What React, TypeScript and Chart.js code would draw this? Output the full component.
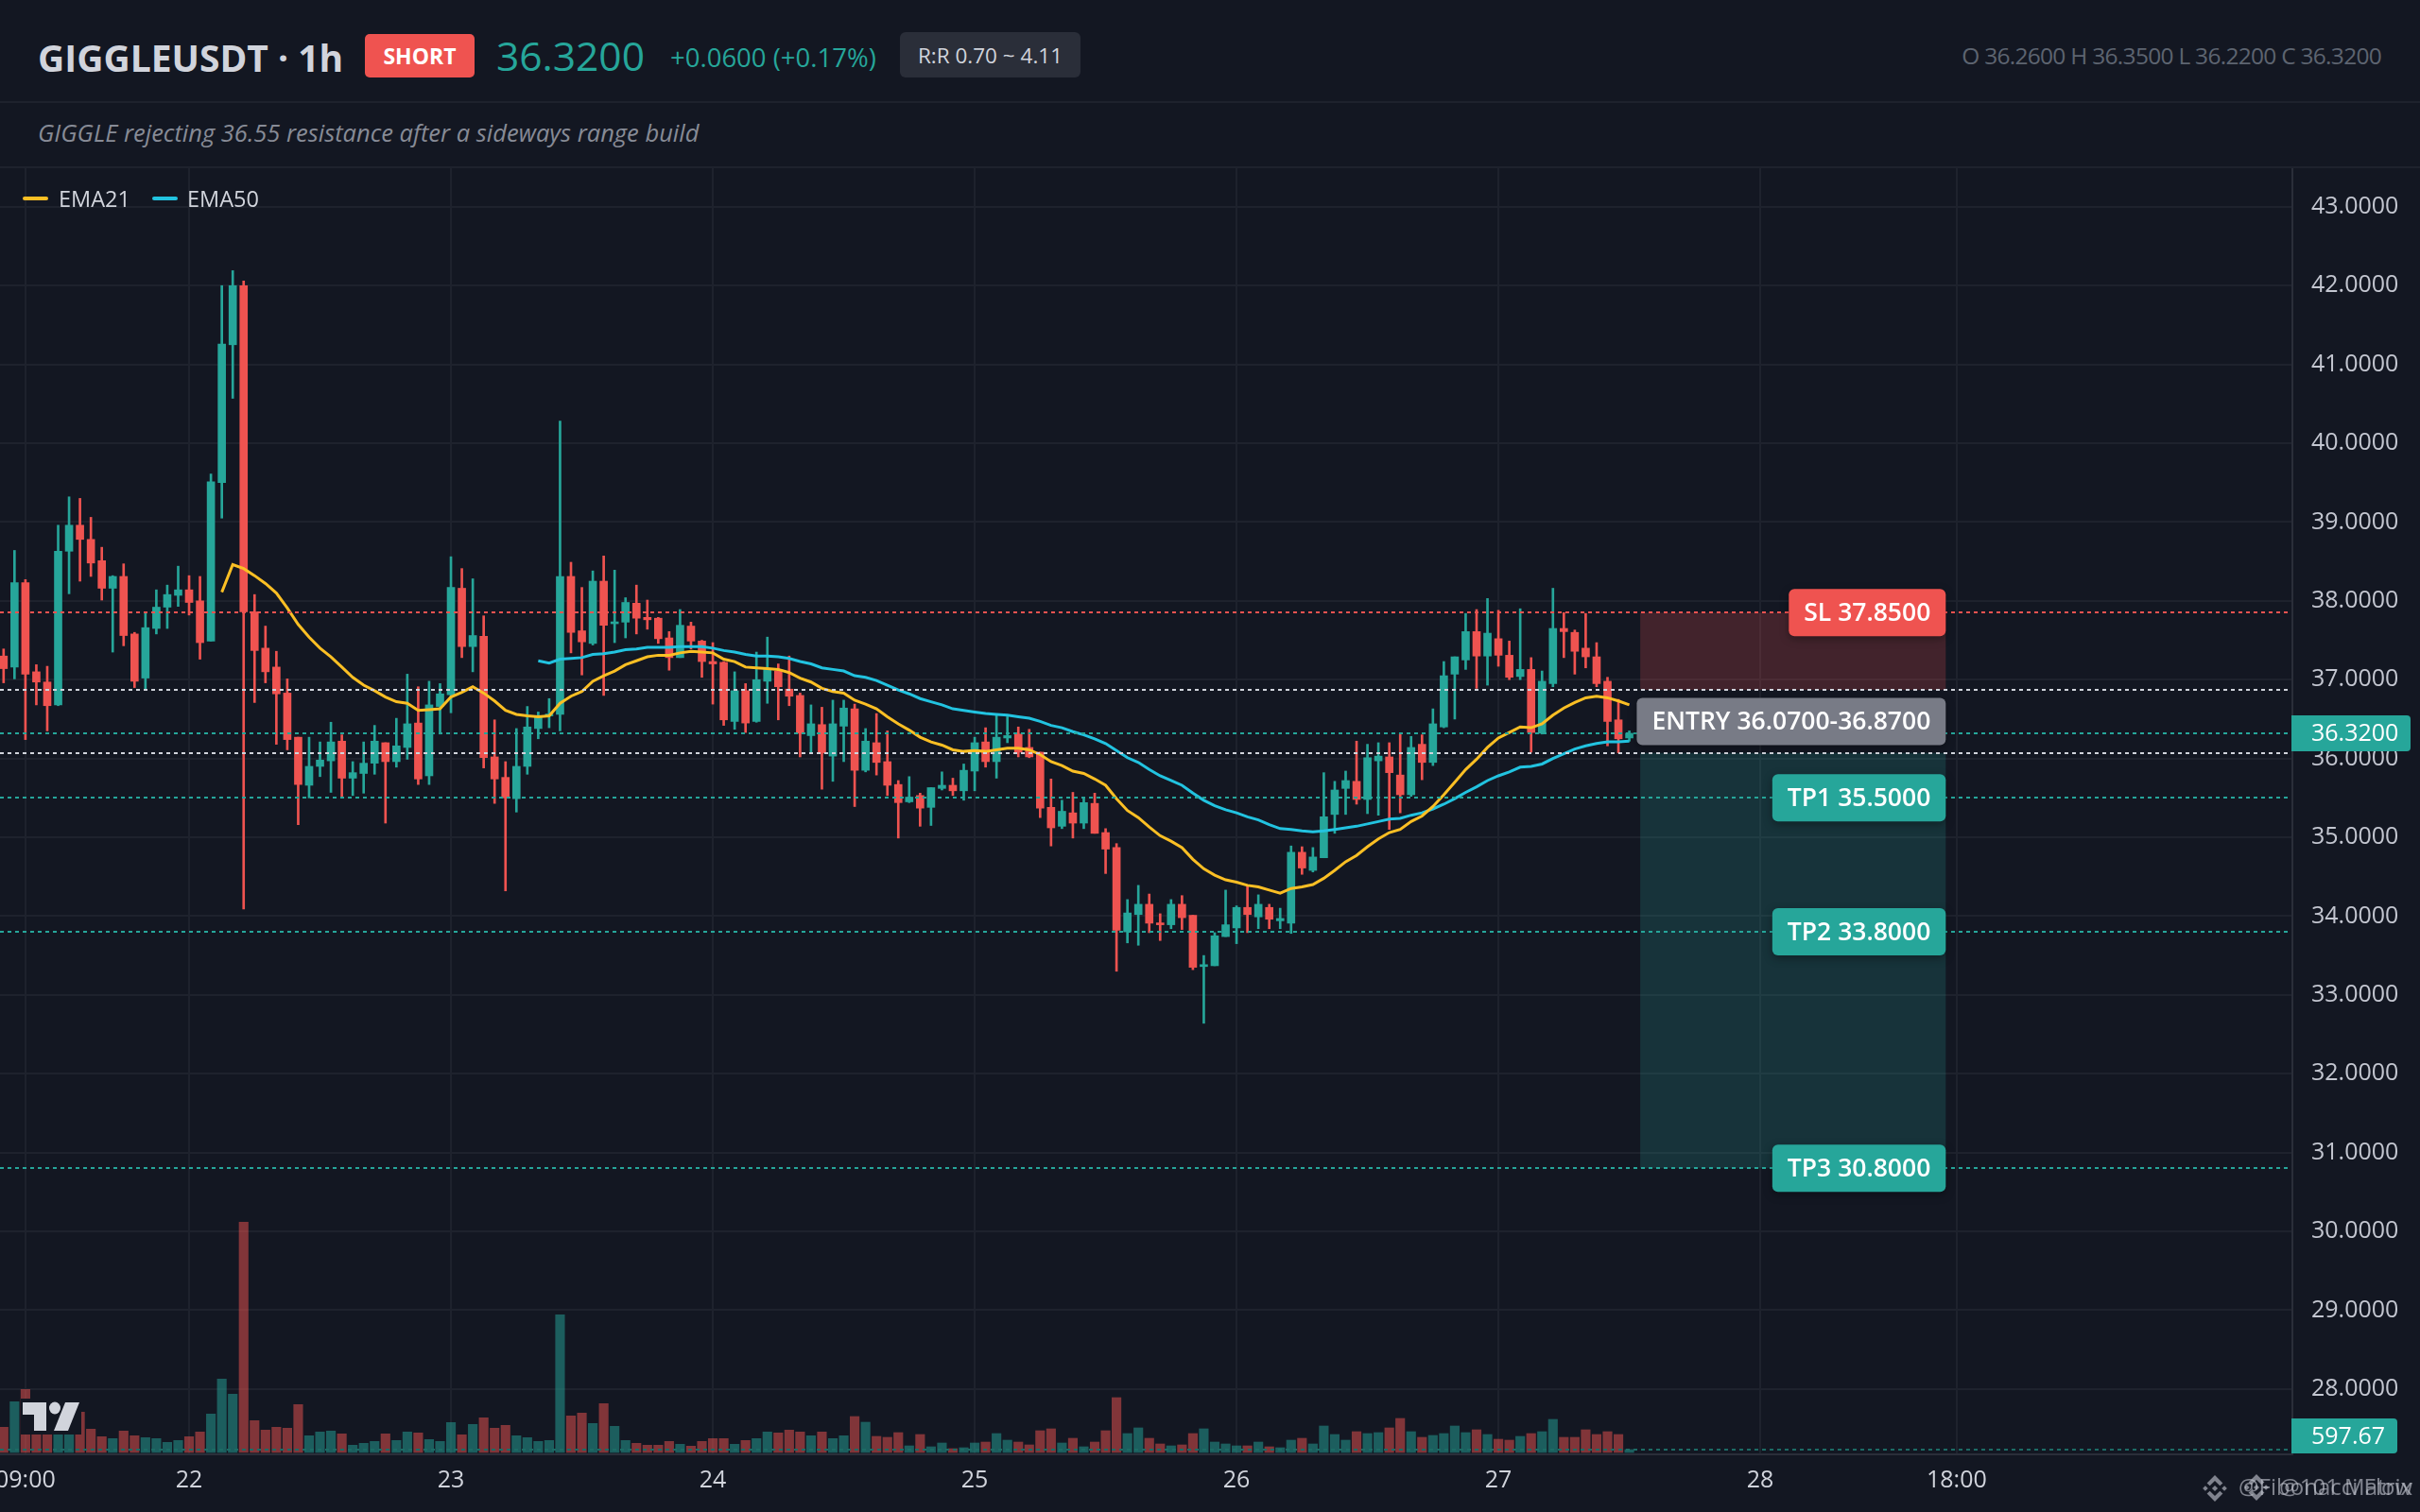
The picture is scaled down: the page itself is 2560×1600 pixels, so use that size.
import React, { useEffect, useRef } from "react";
import { Chart, registerables } from "chart.js";

Chart.register(...registerables);

const firstHour = 7; // hours after 21st 00:00 of the first candle
const opens = [37.30,37.16,38.23,37.10,36.97,36.68,38.63,38.96,38.78,38.51,38.16,38.31,37.58,37.02,37.65,37.92,38.07,38.14,38.00,37.49,39.50,41.25,42.00,37.86,37.40,37.16,36.83,36.27,35.66,35.90,35.97,36.22,35.75,35.81,35.94,36.20,35.96,36.14,36.45,35.78,36.66,36.81,38.16,37.42,37.55,36.02,35.76,35.49,35.90,36.38,36.54,36.56,38.31,37.62,37.46,38.25,37.71,37.73,37.97,37.79,37.78,37.53,37.28,37.68,37.49,37.23,37.22,36.47,36.86,36.47,36.98,37.11,36.88,36.80,36.29,36.43,36.03,36.41,36.63,35.85,36.20,35.96,35.67,35.45,35.53,35.38,35.62,35.66,35.59,35.84,36.21,35.96,36.26,36.31,36.14,36.08,35.38,35.14,35.31,35.18,35.43,35.06,34.87,33.80,34.02,34.15,33.91,33.89,34.15,34.01,33.36,33.37,33.74,33.85,34.11,33.99,34.11,33.94,33.91,34.81,34.58,34.74,35.29,35.62,35.71,35.48,35.97,36.02,35.79,35.54,36.18,35.95,36.40,37.07,37.25,37.61,37.30,37.52,37.31,37.04,37.13,36.32,36.95,37.65,37.60,37.40,37.29,36.98,36.49,36.26];
const closes = [37.14,38.23,37.07,36.97,36.67,38.63,38.96,38.78,38.48,38.16,38.31,37.56,36.98,37.66,37.92,38.08,38.14,37.98,37.47,39.51,41.26,42.00,37.86,37.37,37.10,36.82,36.24,35.67,35.90,35.98,36.21,35.75,35.82,35.94,36.22,35.96,36.16,36.44,35.74,36.68,36.82,38.17,37.42,37.56,36.01,35.74,35.50,35.90,36.40,36.54,36.55,38.31,37.60,37.48,38.25,37.69,37.73,37.98,37.78,37.76,37.52,37.28,37.69,37.49,37.23,37.20,36.49,36.86,36.45,37.00,37.13,36.91,36.79,36.32,36.44,36.07,36.44,36.64,35.85,36.22,35.95,35.66,35.44,35.51,35.37,35.63,35.66,35.59,35.85,36.20,35.96,36.27,36.29,36.08,36.02,35.37,35.12,35.33,35.18,35.44,35.05,34.85,33.82,34.04,34.15,33.91,33.89,34.15,33.98,33.35,33.37,33.75,33.89,34.11,34.02,34.15,33.96,33.97,34.81,34.61,34.75,35.26,35.60,35.72,35.48,36.01,36.03,35.82,35.54,36.14,35.95,36.44,37.05,37.29,37.61,37.30,37.59,37.31,37.03,37.13,36.33,36.98,37.65,37.61,37.36,37.29,36.95,36.47,36.25,36.32];
const highs = [37.39,38.64,38.27,37.19,37.17,38.96,39.32,39.30,39.06,38.68,38.32,38.47,37.60,37.86,38.14,38.20,38.44,38.32,38.31,39.61,42.00,42.19,42.06,38.08,37.68,37.36,37.01,36.27,36.27,36.21,36.46,36.30,35.96,36.21,36.42,36.20,36.51,37.07,36.91,36.98,36.95,38.56,38.41,38.28,37.81,36.49,35.96,36.38,36.66,36.59,36.76,40.28,38.49,38.17,38.38,38.57,38.39,38.04,38.20,38.01,37.79,37.61,37.89,37.73,37.50,37.47,37.23,37.10,36.95,37.35,37.54,37.20,37.30,36.83,36.68,36.65,36.74,36.74,36.69,36.38,36.57,36.35,35.72,35.77,35.56,35.63,35.83,35.75,35.93,36.27,36.39,36.55,36.53,36.40,36.37,36.08,35.74,35.47,35.57,35.49,35.56,35.11,34.92,34.21,34.39,34.28,34.03,34.21,34.26,34.01,33.50,33.79,34.33,34.13,34.38,34.27,34.15,34.10,34.89,34.88,34.87,35.82,35.71,35.84,36.22,36.18,36.20,36.20,36.31,36.28,36.30,36.63,37.23,37.29,37.84,37.89,38.03,37.88,37.49,37.90,37.28,37.11,38.16,37.85,37.63,37.84,37.47,37.03,36.75,36.35];
const lows = [36.96,37.01,36.24,36.68,36.35,36.67,38.09,38.25,38.31,38.01,37.35,37.43,36.90,36.87,37.58,37.65,37.93,37.82,37.26,37.49,39.05,40.57,34.09,36.71,36.96,36.18,36.11,35.16,35.50,35.77,35.57,35.52,35.53,35.56,35.80,35.18,35.89,35.99,35.67,35.67,36.31,36.58,37.28,37.10,35.88,35.43,34.32,35.32,35.80,36.25,36.39,36.35,37.34,37.06,37.44,36.80,37.47,37.53,37.58,37.64,37.46,37.12,37.28,37.39,37.03,36.69,36.42,36.37,36.33,36.46,36.70,36.49,36.67,36.02,36.07,35.61,35.71,35.96,35.39,35.83,35.79,35.53,34.99,35.44,35.14,35.15,35.60,35.53,35.47,35.59,35.89,35.75,36.20,36.02,36.01,35.25,34.89,35.11,34.99,35.11,35.05,34.54,33.30,33.66,33.63,33.79,33.69,33.84,33.83,33.32,32.64,33.37,33.74,33.65,33.79,33.84,33.84,33.84,33.78,34.53,34.56,34.74,35.05,35.29,35.42,35.30,35.28,35.10,35.31,35.52,35.73,35.91,36.39,36.50,37.13,36.89,36.93,37.17,37.00,37.00,36.08,36.31,36.91,37.28,37.07,37.15,36.91,36.16,36.07,36.22];
const volumes = [5312,10690,13280,3718,3718,5976,6640,8499,4914,3320,2922,4515,3519,3121,2922,2125,2523,3320,4316,8101,15471,12284,48538,6706,4714,5312,5113,10093,3519,4316,4515,3918,1527,1926,2324,3918,2523,4316,4117,2722,2324,6308,3718,5910,7304,5113,5710,3519,3121,2324,2523,29017,7702,8300,6109,10292,5511,2523,1926,1527,1527,2324,1726,1328,2324,2922,2922,1726,2523,2922,4316,4117,4714,4316,3519,4316,2922,3519,7570,6374,3386,3187,4183,1394,3785,1195,1992,797,996,1992,2191,3984,2590,2191,1594,4582,4980,1992,2988,1195,2191,4582,11554,3984,5179,2988,1793,1394,1594,3984,4980,2191,1793,1394,1394,2191,1195,996,2590,2988,1793,5578,3785,2590,4382,3984,4183,5179,7171,4382,3187,3586,3984,5578,4183,4781,3785,2789,2590,3386,3984,4382,6972,3187,3187,4781,3785,4382,3785,597.67];
const ema21Start = 20; // candle offset of first EMA21 point
const ema21 = [38.11,38.46,38.41,38.32,38.22,38.10,37.91,37.70,37.54,37.40,37.29,37.16,37.03,36.93,36.86,36.78,36.72,36.70,36.61,36.62,36.63,36.78,36.84,36.91,36.83,36.73,36.61,36.56,36.54,36.53,36.54,36.70,36.79,36.85,36.98,37.05,37.11,37.19,37.24,37.29,37.31,37.31,37.34,37.36,37.35,37.34,37.26,37.23,37.16,37.15,37.14,37.13,37.09,37.02,36.97,36.89,36.85,36.83,36.74,36.69,36.63,36.53,36.44,36.36,36.27,36.21,36.17,36.11,36.09,36.10,36.09,36.11,36.13,36.13,36.11,36.05,35.96,35.91,35.84,35.81,35.74,35.66,35.49,35.34,35.25,35.13,35.02,34.95,34.87,34.72,34.60,34.52,34.46,34.43,34.39,34.37,34.33,34.29,34.35,34.37,34.40,34.48,34.58,34.69,34.77,34.88,34.98,35.06,35.10,35.20,35.27,35.39,35.54,35.70,35.86,35.99,36.14,36.26,36.33,36.40,36.39,36.44,36.55,36.64,36.71,36.77,36.79,36.77,36.73,36.68];
const ema50Start = 49; // candle offset of first EMA50 point
const ema50 = [37.24,37.21,37.26,37.27,37.28,37.32,37.33,37.35,37.38,37.39,37.41,37.41,37.41,37.42,37.42,37.42,37.40,37.37,37.35,37.32,37.30,37.30,37.29,37.27,37.23,37.20,37.15,37.13,37.11,37.05,37.03,36.99,36.93,36.87,36.82,36.76,36.72,36.68,36.63,36.61,36.59,36.57,36.56,36.55,36.53,36.51,36.47,36.42,36.39,36.34,36.30,36.25,36.19,36.10,36.01,35.95,35.86,35.78,35.72,35.66,35.56,35.47,35.40,35.35,35.31,35.26,35.22,35.16,35.11,35.10,35.08,35.07,35.08,35.10,35.12,35.14,35.17,35.20,35.23,35.24,35.28,35.31,35.36,35.42,35.49,35.57,35.64,35.72,35.78,35.83,35.89,35.90,35.93,36.00,36.06,36.12,36.16,36.19,36.21,36.21,36.22];

const xTickHours = [9, 24, 48, 72, 96, 120, 144, 168, 186];
const xTickLabels = ["09:00", "22", "23", "24", "25", "26", "27", "28", "18:00"];
const lastPrice = 36.32;
const lastVolume = 597.67;
const slPrice = 37.85;
const entryHigh = 36.87;
const entryLow = 36.07;
const tp1 = 35.5;
const tp2 = 33.8;
const tp3 = 30.8;
const zoneStartHour = 157;
const zoneEndHour = 185;

const GREEN = "#26a69a";
const RED = "#ef5350";
const BG = "#131722";
const GRID = "#1e222d";
const AXIS = "#2a2e39";
const TEXT = "#d1d4dc";
const FONT = '"Open Sans", "Noto Sans", sans-serif';

const hours = opens.map((_, i) => firstHour + i);
const isUp = opens.map((o, i) => closes[i] >= o);

function rr(ctx: CanvasRenderingContext2D, x: number, y: number, w: number, h: number, r: any) {
  ctx.beginPath();
  ctx.roundRect(x, y, w, h, r);
}

function binance(ctx: CanvasRenderingContext2D, cx: number, cy: number, s: number) {
  const d = (x: number, y: number, r: number) => {
    ctx.beginPath();
    ctx.moveTo(x, y - r);
    ctx.lineTo(x + r, y);
    ctx.lineTo(x, y + r);
    ctx.lineTo(x - r, y);
    ctx.closePath();
    ctx.fill();
  };
  d(cx, cy, s * 0.22);
  d(cx - s * 0.72, cy, s * 0.2);
  d(cx + s * 0.72, cy, s * 0.2);
  const chevron = (dir: number) => {
    ctx.beginPath();
    ctx.moveTo(cx, cy + dir * s);
    ctx.lineTo(cx + s * 0.6, cy + dir * s * 0.4);
    ctx.lineTo(cx + s * 0.38, cy + dir * s * 0.2);
    ctx.lineTo(cx, cy + dir * s * 0.58);
    ctx.lineTo(cx - s * 0.38, cy + dir * s * 0.2);
    ctx.lineTo(cx - s * 0.6, cy + dir * s * 0.4);
    ctx.closePath();
    ctx.fill();
  };
  chevron(-1);
  chevron(1);
}

const overlay = {
  id: "overlay",
  beforeDatasetsDraw(chart: any) {
    const { ctx, scales } = chart;
    const xa = scales.x.getPixelForValue(zoneStartHour);
    const xb = scales.x.getPixelForValue(zoneEndHour);
    const py = (v: number) => scales.y.getPixelForValue(v);
    ctx.save();
    ctx.fillStyle = "rgba(239,83,80,0.22)";
    ctx.fillRect(xa, py(slPrice), xb - xa, py(entryHigh) - py(slPrice));
    ctx.fillStyle = "rgba(38,166,154,0.2)";
    ctx.fillRect(xa, py(entryLow), xb - xa, py(tp3) - py(entryLow));
    ctx.restore();
  },
  afterDatasetsDraw(chart: any) {
    const { ctx, scales, chartArea } = chart;
    const py = (v: number) => scales.y.getPixelForValue(v);
    const xb = scales.x.getPixelForValue(zoneEndHour);
    const hline = (y: number, color: string) => {
      ctx.save();
      ctx.strokeStyle = color;
      ctx.lineWidth = 2;
      ctx.setLineDash([4, 4]);
      ctx.beginPath();
      ctx.moveTo(chartArea.left, Math.round(y));
      ctx.lineTo(chartArea.right - 5, Math.round(y));
      ctx.stroke();
      ctx.restore();
    };
    hline(py(slPrice), RED);
    hline(py(entryHigh), TEXT);
    hline(py(entryLow), TEXT);
    hline(py(lastPrice), GREEN);
    hline(py(tp1), GREEN);
    hline(py(tp2), GREEN);
    hline(py(tp3), GREEN);
    hline(scales.y2.getPixelForValue(lastVolume), "#1c6b65");

    const tag = (text: string, y: number, color: string) => {
      ctx.save();
      ctx.font = `600 26.5px ${FONT}`;
      const w = ctx.measureText(text).width + 32;
      ctx.shadowColor = "rgba(0,0,0,0.35)";
      ctx.shadowBlur = 10;
      ctx.shadowOffsetY = 3;
      ctx.fillStyle = color;
      rr(ctx, xb - w, y - 25, w, 50, 6);
      ctx.fill();
      ctx.shadowColor = "transparent";
      ctx.fillStyle = "#ffffff";
      ctx.textAlign = "right";
      ctx.textBaseline = "middle";
      ctx.fillText(text, xb - 16, y + 1);
      ctx.restore();
    };
    tag(`SL ${slPrice.toFixed(4)}`, py(slPrice), RED);
    tag(`ENTRY ${entryLow.toFixed(4)}-${entryHigh.toFixed(4)}`, py((entryLow + entryHigh) / 2), "#787b86");
    tag(`TP1 ${tp1.toFixed(4)}`, py(tp1), GREEN);
    tag(`TP2 ${tp2.toFixed(4)}`, py(tp2), GREEN);
    tag(`TP3 ${tp3.toFixed(4)}`, py(tp3), GREEN);
  },
  afterDraw(chart: any) {
    const { ctx, scales, chartArea } = chart;
    ctx.save();
    // price tag and volume tag on the price axis
    const right = chartArea.right;
    const y = scales.y.getPixelForValue(lastPrice);
    ctx.fillStyle = GREEN;
    rr(ctx, right - 1, y - 19, 126, 38, [0, 4, 4, 0]);
    ctx.fill();
    ctx.fillStyle = "#ffffff";
    ctx.font = `400 25px ${FONT}`;
    ctx.textBaseline = "middle";
    ctx.textAlign = "left";
    ctx.fillText(lastPrice.toFixed(4), right + 20, y + 1);
    const bottom = chartArea.bottom;
    ctx.fillStyle = GREEN;
    rr(ctx, right - 1, bottom - 38, 112, 37, [0, 4, 4, 0]);
    ctx.fill();
    ctx.fillStyle = "#ffffff";
    ctx.fillText(lastVolume.toFixed(2), right + 20, bottom - 18);

    // TradingView mark
    const top = bottom - 59;
    ctx.fillStyle = BG;
    ctx.fillRect(22, top, 64, 38);
    ctx.fillStyle = TEXT;
    ctx.fillRect(24, top + 4, 25, 13);
    ctx.fillRect(36, top + 4, 13, 30);
    ctx.beginPath();
    ctx.ellipse(58, top + 10, 6, 6.5, 0, 0, Math.PI * 2);
    ctx.fill();
    ctx.beginPath();
    ctx.moveTo(69, top + 4);
    ctx.lineTo(84, top + 4);
    ctx.lineTo(72, top + 34);
    ctx.lineTo(57, top + 34);
    ctx.closePath();
    ctx.fill();

    // watermarks
    const wy = chart.height - 25;
    ctx.globalAlpha = 0.62;
    ctx.fillStyle = "#c4c7d0";
    binance(ctx, 2343, wy, 14);
    binance(ctx, 2387, wy - 1, 14);
    ctx.font = `400 24px ${FONT}`;
    ctx.textAlign = "right";
    ctx.fillText("@Fibonacci Flow", 2552, wy);
    ctx.fillText("@101 Matrix", 2552, wy);
    ctx.restore();
  },
};

export default function App() {
  const ref = useRef<HTMLCanvasElement | null>(null);
  useEffect(() => {
    document.body.style.margin = "0";
    document.body.style.background = BG;
    const candle = (lo: number[], hi: number[]) => hours.map((h, i) => ({ x: h, y: [lo[i], hi[i]] }));
    const chart = new Chart(ref.current as HTMLCanvasElement, {
      type: "bar",
      data: {
        datasets: [
          {
            type: "line",
            label: "EMA21",
            data: ema21.map((v, i) => ({ x: firstHour + ema21Start + i, y: v })),
            borderColor: "#fbbf24",
            borderWidth: 3,
            pointRadius: 0,
            tension: 0,
            yAxisID: "y",
            order: 0,
          },
          {
            type: "line",
            label: "EMA50",
            data: ema50.map((v, i) => ({ x: firstHour + ema50Start + i, y: v })),
            borderColor: "#22c3e0",
            borderWidth: 3,
            pointRadius: 0,
            tension: 0,
            yAxisID: "y",
            order: 0,
          },
          {
            label: "Body",
            data: candle(opens, closes),
            backgroundColor: isUp.map((u) => (u ? GREEN : RED)),
            barThickness: 8,
            minBarLength: 2,
            grouped: false,
            yAxisID: "y",
            order: 1,
          },
          {
            label: "Wick",
            data: candle(lows, highs),
            backgroundColor: isUp.map((u) => (u ? GREEN : RED)),
            barThickness: 2,
            grouped: false,
            yAxisID: "y",
            order: 2,
          },
          {
            label: "Volume",
            data: hours.map((h, i) => ({ x: h, y: volumes[i] })),
            backgroundColor: isUp.map((u) => (u ? "rgba(38,166,154,0.5)" : "rgba(239,83,80,0.5)")),
            barThickness: 9.5,
            grouped: false,
            yAxisID: "y2",
            order: 3,
          },
        ] as any,
      },
      options: {
        animation: false,
        responsive: false,
        devicePixelRatio: 1,
        layout: { padding: 0 },
        plugins: { legend: { display: false }, tooltip: { enabled: false } },
        scales: {
          x: {
            type: "linear",
            offset: false,
            min: 6.67,
            max: 216.77,
            grid: { color: GRID, lineWidth: 2, offset: false, drawTicks: false },
            border: { color: AXIS, width: 2 },
            afterBuildTicks: (s: any) => {
              s.ticks = xTickHours.map((v) => ({ value: v }));
            },
            afterFit: (s: any) => {
              s.height = 61;
              s.paddingLeft = 0;
              s.paddingRight = 0;
            },
            ticks: {
              autoSkip: false,
              maxRotation: 0,
              color: TEXT,
              padding: 13,
              font: { family: FONT, size: 25 },
              callback: (_v: any, i: number) => xTickLabels[i],
            },
          },
          y: {
            type: "linear",
            position: "right",
            min: 27.17,
            max: 43.49,
            grid: { color: GRID, lineWidth: 2, drawTicks: false },
            border: { color: AXIS, width: 2 },
            afterFit: (s: any) => {
              s.width = 135;
              s.paddingTop = 0;
              s.paddingBottom = 0;
            },
            ticks: {
              stepSize: 1,
              includeBounds: false,
              color: "#c3c6d0",
              padding: 20,
              font: { family: FONT, size: 25 },
              callback: (v: any) => Number(v).toFixed(4),
            },
          },
          y2: { type: "linear", display: false, min: -400, max: 270700 },
        },
      } as any,
      plugins: [overlay as any],
    });
    return () => chart.destroy();
  }, []);

  const abs = (s: React.CSSProperties): React.CSSProperties => ({
    position: "absolute",
    fontFamily: FONT,
    whiteSpace: "nowrap",
    lineHeight: 1,
    ...s,
  });

  return (
    <div style={{ position: "relative", width: 2560, height: 1600, background: BG, overflow: "hidden" }}>
      <div style={abs({ left: 0, top: 107, width: 2560, height: 2, background: GRID })} />
      <div style={abs({ left: 0, top: 176, width: 2560, height: 2, background: GRID })} />
      <div style={abs({ left: 40, top: 41, fontSize: 39, fontWeight: 700, color: TEXT })}>GIGGLEUSDT · 1h</div>
      <div style={abs({ left: 386, top: 36, width: 116, height: 46, background: RED, borderRadius: 5, color: "#fff", fontSize: 23, fontWeight: 700, display: "flex", alignItems: "center", justifyContent: "center" })}>SHORT</div>
      <div style={abs({ left: 525, top: 38, fontSize: 42.5, fontWeight: 500, color: GREEN })}>36.3200</div>
      <div style={abs({ left: 709, top: 47, fontSize: 27.5, fontWeight: 500, color: GREEN })}>+0.0600 (+0.17%)</div>
      <div style={abs({ left: 952, top: 34, width: 191, height: 48, background: AXIS, borderRadius: 6, color: TEXT, fontSize: 22.5, fontWeight: 500, display: "flex", alignItems: "center", justifyContent: "center", paddingTop: 2, boxSizing: "border-box" })}>R:R 0.70 ~ 4.11</div>
      <div style={abs({ right: 41, top: 47, fontSize: 24.5, letterSpacing: "-0.72px", color: "#5d6470" })}>O 36.2600 H 36.3500 L 36.2200 C 36.3200</div>
      <div style={abs({ left: 40, top: 128, fontSize: 25.5, fontStyle: "italic", color: "#878b96" })}>GIGGLE rejecting 36.55 resistance after a sideways range build</div>
      <canvas ref={ref} width={2560} height={1422} style={{ position: "absolute", left: 0, top: 178, display: "block", width: 2560, height: 1422 }} />
      <div style={abs({ left: 24, top: 208, width: 27, height: 4, background: "#fbbf24", borderRadius: 2 })} />
      <div style={abs({ left: 62, top: 199, fontSize: 23.5, fontWeight: 500, color: TEXT })}>EMA21</div>
      <div style={abs({ left: 161, top: 208, width: 27, height: 4, background: "#22c3e0", borderRadius: 2 })} />
      <div style={abs({ left: 198, top: 199, fontSize: 23.5, fontWeight: 500, color: TEXT })}>EMA50</div>
    </div>
  );
}
